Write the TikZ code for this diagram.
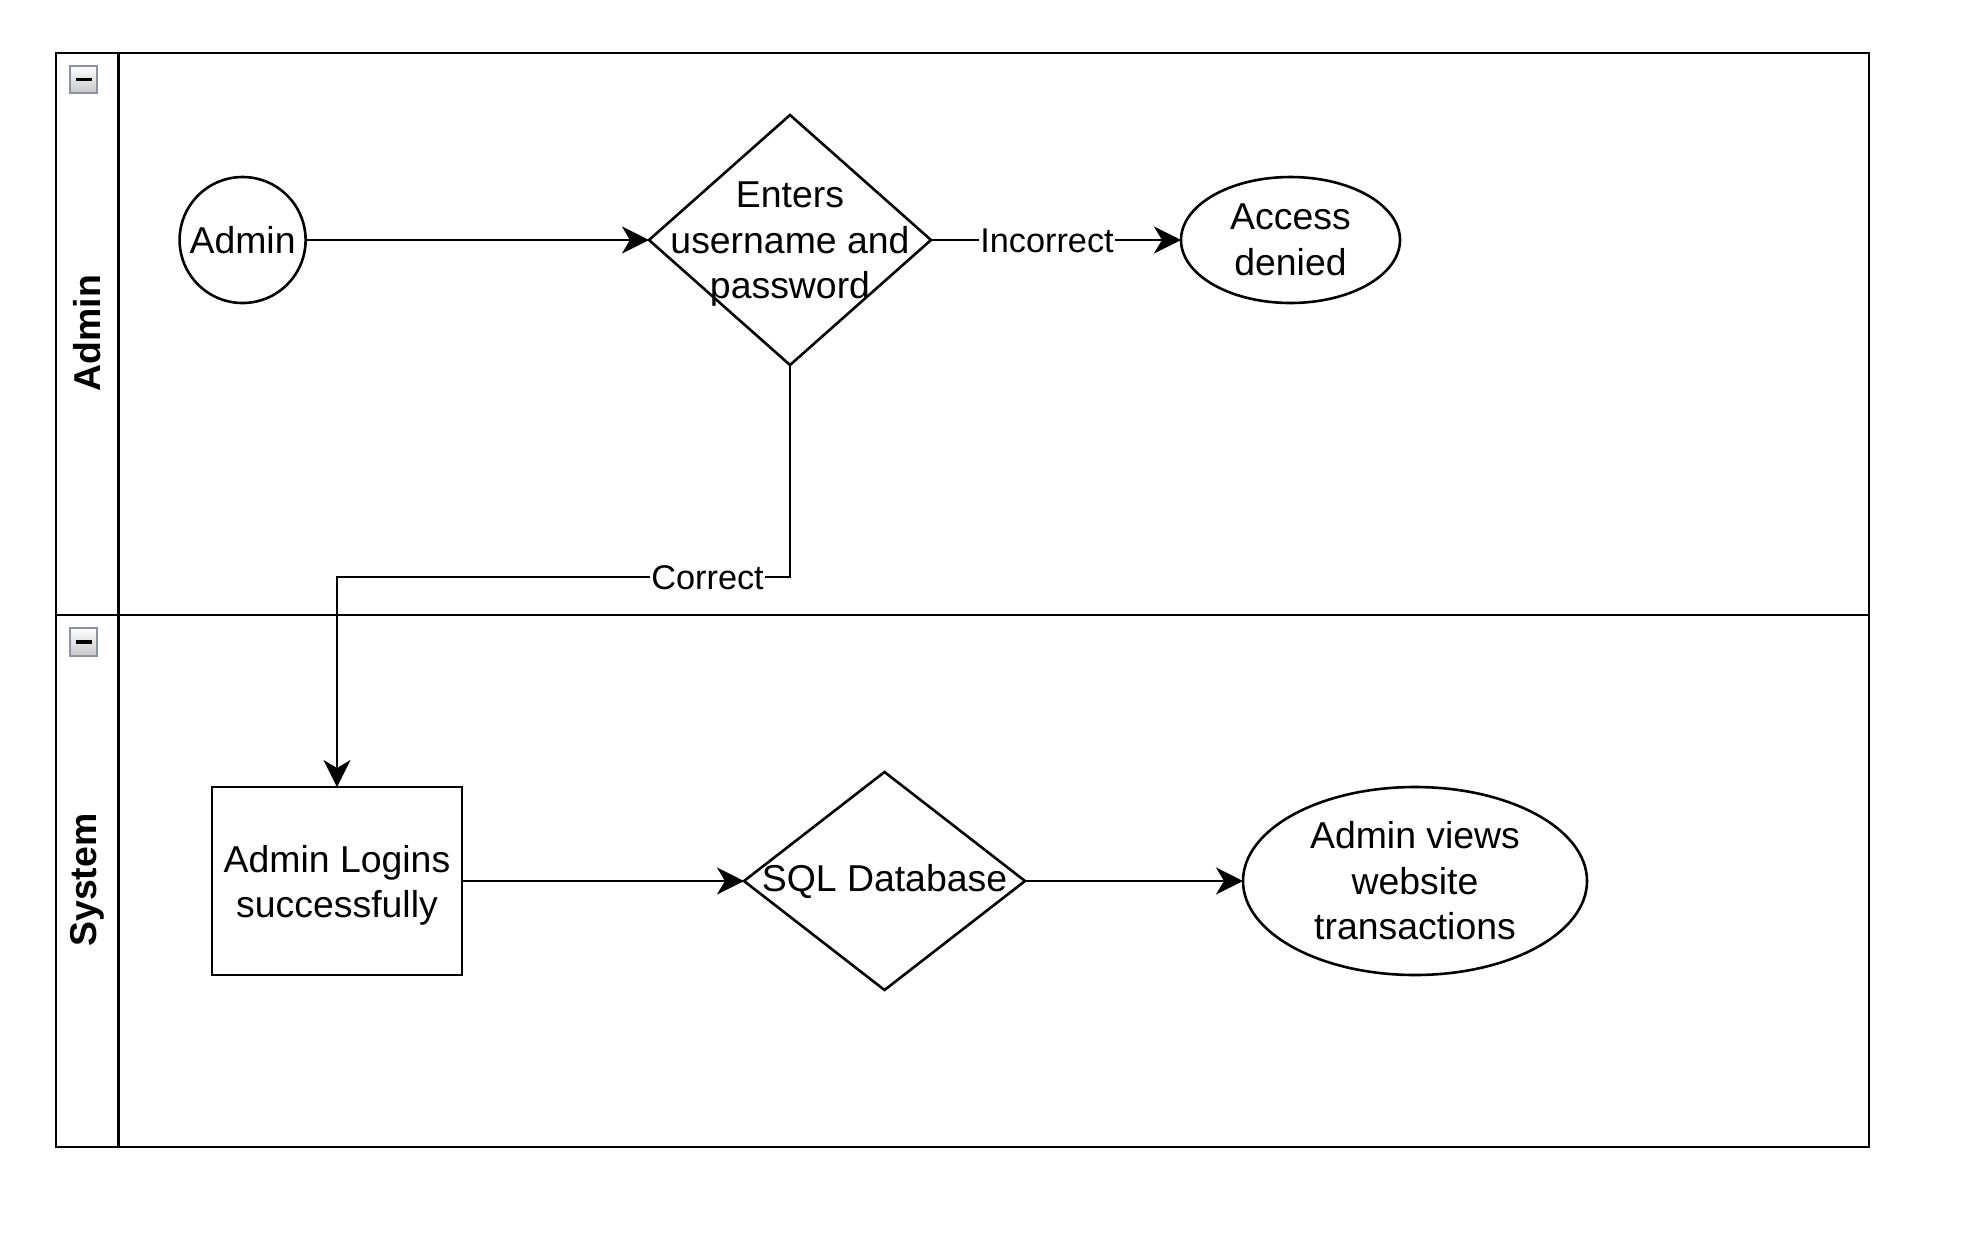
\documentclass[tikz,border=0pt]{standalone}
\usepackage{fontspec}
\setmainfont{Liberation Sans}
\usetikzlibrary{shapes.geometric,arrows.meta}
\begin{document}
\begin{tikzpicture}[x=1pt,y=1pt,
  line width=2.6pt,
  >={Stealth[length=27pt,width=27pt,inset=8pt]},
  mainfont/.style={font=\fontsize{37.4}{45.5}\selectfont},
  shapebase/.style 2 args={draw=black,line width=2.6pt,inner sep=0pt,outer sep=0pt,
     label={[mainfont,align=center,inner sep=0pt,yshift=#2]center:#1}},
  roundnode/.style={shapebase={#1}{0pt},circle,minimum size=126pt},
  ovalnode/.style={shapebase={#1}{0pt},ellipse},
  dianode/.style 2 args={shapebase={#1}{#2},diamond},
  boxnode/.style={shapebase={#1}{-4.5pt},rectangle,minimum width=250pt,minimum height=188pt},
  edgelabel/.style={fill=white,inner sep=1pt,yshift=-1pt,font=\fontsize{34.3}{41}\selectfont},
  lanelabel/.style={rotate=90,font=\bfseries\fontsize{37.4}{45.5}\selectfont},
  conn/.style={->,line width=2.6pt},
  iconbox/.style={draw={rgb,255:red,138;green,148;blue,168},line width=2pt,top color=white,bottom color=black!22}
]
\useasboundingbox (0,0) rectangle (1981,-1254);

% pool frame
\draw[line width=2.8pt] (56,-53) rectangle (1869,-1147);
\draw[line width=2.8pt] (118.7,-53) -- (118.7,-1147);
\draw[line width=2.8pt] (56,-615) -- (1869,-615);

% collapse icons
\draw[iconbox] (70,-66) rectangle (97,-93);
\draw[line width=3.2pt] (75.5,-79.5) -- (91.5,-79.5);
\draw[iconbox] (70,-628) rectangle (97,-656);
\draw[line width=3.2pt] (75.5,-642) -- (91.5,-642);

% lane labels
\node[lanelabel] (laneA) at (87,-333) {Admin};
\node[lanelabel] (laneS) at (87,-880) {System};

% nodes
\node[roundnode={Admin}] (admin) at (242.6,-240) {};
\node[dianode={Enters\\username and\\password}{-4.5pt},minimum width=282pt,minimum height=250pt] (enter) at (790,-240) {};
\node[ovalnode={Access\\denied},minimum width=219pt,minimum height=126pt] (denied) at (1290.5,-240) {};
\node[boxnode={Admin Logins\\successfully}] (login) at (337,-881) {};
\node[dianode={SQL Database}{0pt},minimum width=281pt,minimum height=218pt] (sql) at (884.5,-881) {};
\node[ovalnode={Admin views\\website\\transactions},minimum width=344pt,minimum height=188pt] (views) at (1415,-881) {};

\coordinate (bendA) at (790,-577);
\coordinate (bendB) at (337,-577);

% connectors
\draw[conn] (admin.east) -- (enter.west);
\draw[conn] (enter.east) -- node[edgelabel,pos=0.464]{Incorrect} (denied.west);
\draw[conn] (enter.south) -- (bendA) -- node[edgelabel,pos=0.182]{Correct} (bendB) -- (login.north);
\draw[conn] (login.east) -- (sql.west);
\draw[conn] (sql.east) -- (views.west);
\end{tikzpicture}
\end{document}
